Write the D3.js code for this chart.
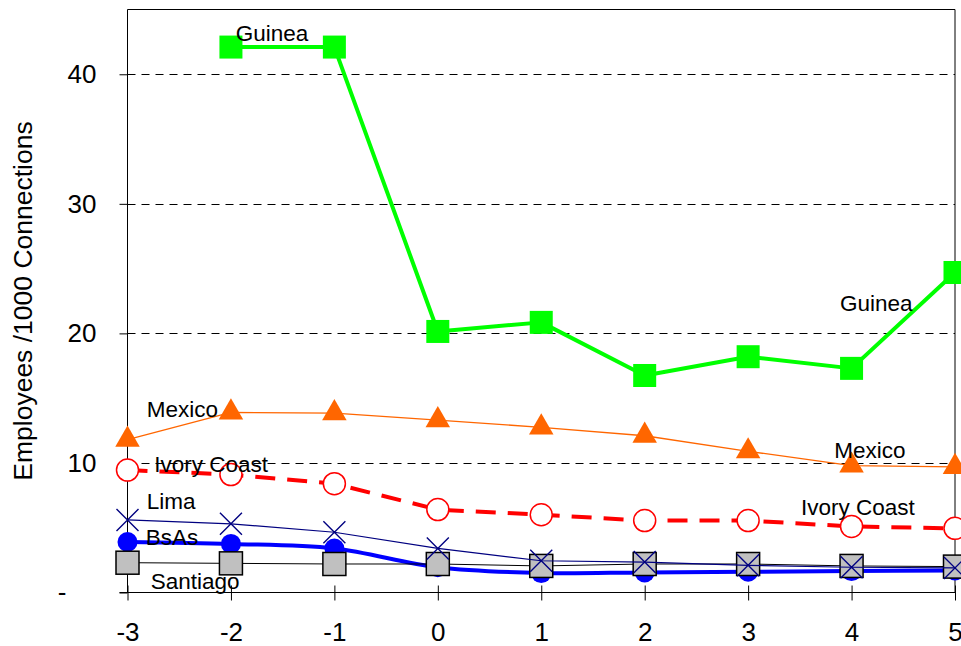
<!DOCTYPE html>
<html><head><meta charset="utf-8">
<script src="https://cdn.jsdelivr.net/npm/d3@7"></script>
<style>
html,body{margin:0;padding:0;background:#fff;}
svg{display:block;}
text{font-family:"Liberation Sans",Arial,Helvetica,sans-serif;fill:#000;}
</style>
</head><body>
<svg id="chart" width="961" height="646"></svg>
<script>
// ---- data ----
const years = [-3, -2, -1, 0, 1, 2, 3, 4, 5];
const guinea     = [null, 42.1, 42.1, 20.15, 20.85, 16.75, 18.2, 17.3, 24.7];
const mexico     = [11.8, 13.9, 13.85, 13.3, 12.75, 12.1, 10.9, 9.8, 9.7];
const ivoryCoast = [9.45, 9.1, 8.4, 6.4, 6.0, 5.55, 5.55, 5.1, 4.95];
const lima       = [5.6, 5.3, 4.65, 3.4, 2.45, 2.35, 2.1, 1.95, 1.9];
const bsas       = [3.9, 3.75, 3.4, 1.95, 1.5, 1.55, 1.6, 1.65, 1.7];
const santiago   = [2.3, 2.25, 2.2, 2.2, 2.05, 2.2, 2.2, 2.05, 2.0];
const yTicks = [0, 10, 20, 30, 40];
const yTickLabels = ["-", "10", "20", "30", "40"];
const xTickLabels = ["-3", "-2", "-1", "0", "1", "2", "3", "4", "5"];
const yTitle = "Employees /1000 Connections";
// series labels: text and anchor in data coordinates
const labelTexts = ["Guinea", "Guinea", "Mexico", "Mexico", "Ivory Coast", "Ivory Coast", "Lima", "BsAs", "Santiago"];
const labelX = [-1.954, 3.888, -2.814, 3.833, -2.741, 3.511, -2.814, -2.824, -2.776];
const labelY = [42.57, 21.7, 13.54, 10.4, 9.29, 6.02, 6.46, 3.68, 0.29];

// ---- layout ----
const svg = d3.select("#chart");
const x = d3.scaleLinear().domain([-3, 5]).range([127.5, 955]);
const y = d3.scaleLinear().domain([0, 45]).range([592.5, 9.5]);
const FONT_TICK = 26, FONT_LABEL = 22.5;

// gridlines
svg.append("g").selectAll("line").data(yTicks.filter(d => d > 0)).join("line")
  .attr("x1", x(-3)).attr("x2", x(5))
  .attr("y1", d => Math.round(y(d)) + 0.5).attr("y2", d => Math.round(y(d)) + 0.5)
  .attr("stroke", "#000").attr("stroke-width", 1).attr("stroke-dasharray", "8,6");

// y axis
const yAxis = svg.append("g").attr("transform", `translate(${x(-3)},0)`)
  .call(d3.axisLeft(y).tickValues(yTicks).tickFormat((d, i) => yTickLabels[i])
    .tickSize(8).tickPadding(23).tickSizeOuter(0));
yAxis.select(".domain").remove();
yAxis.selectAll(".tick line").attr("stroke", "#000");
yAxis.selectAll(".tick text").attr("font-size", FONT_TICK).attr("font-family", null);
yAxis.selectAll(".tick").filter(d => d === 0).select("text").attr("x", -61);

// x axis
const xAxis = svg.append("g").attr("transform", `translate(0,${y(0)})`)
  .call(d3.axisBottom(x).tickValues(years).tickFormat((d, i) => xTickLabels[i])
    .tickSize(8).tickPadding(22).tickSizeOuter(0));
xAxis.select(".domain").remove();
xAxis.selectAll(".tick line").attr("y1", -7).attr("stroke", "#000");
xAxis.selectAll(".tick text").attr("font-size", FONT_TICK).attr("font-family", null);

// frame
const frame = svg.append("g").attr("stroke", "#000").attr("stroke-width", 1);
frame.append("line").attr("x1", x(-3) - 8).attr("x2", x(5)).attr("y1", y(0)).attr("y2", y(0));
frame.append("line").attr("x1", x(-3)).attr("x2", x(-3)).attr("y1", y(45)).attr("y2", y(0));
frame.append("line").attr("x1", x(-3)).attr("x2", x(5)).attr("y1", y(45)).attr("y2", y(45));
frame.append("line").attr("x1", x(5)).attr("x2", x(5)).attr("y1", y(45)).attr("y2", y(0));

// y title
svg.append("text").attr("transform", `translate(32,301) rotate(-90)`)
  .attr("text-anchor", "middle").attr("font-size", 26.5).text(yTitle);

// helpers
const pts = vals => years.map((yr, i) => ({ x: yr, v: vals[i] })).filter(d => d.v != null);
function drawLine(vals, color, width, dash, curve) {
  const line = d3.line().x(d => x(d.x)).y(d => y(d.v)).curve(curve || d3.curveLinear);
  svg.append("path").datum(pts(vals)).attr("d", line)
    .attr("fill", "none").attr("stroke", color).attr("stroke-width", width)
    .attr("stroke-dasharray", dash || null).attr("stroke-linejoin", "round");
}
function squares(vals, fill, stroke, size) {
  svg.append("g").selectAll("rect").data(pts(vals)).join("rect")
    .attr("x", d => x(d.x) - size / 2).attr("y", d => y(d.v) - size / 2)
    .attr("width", size).attr("height", size)
    .attr("fill", fill).attr("stroke", stroke || "none").attr("stroke-width", stroke ? 1.5 : 0);
}
function circles(vals, fill, stroke, r) {
  svg.append("g").selectAll("circle").data(pts(vals)).join("circle")
    .attr("cx", d => x(d.x)).attr("cy", d => y(d.v)).attr("r", r)
    .attr("fill", fill).attr("stroke", stroke || "none").attr("stroke-width", stroke ? 1.5 : 0);
}
function triangles(vals, fill, size) {
  const sym = d3.symbol().type(d3.symbolTriangle).size(size);
  svg.append("g").selectAll("path").data(pts(vals)).join("path")
    .attr("transform", d => `translate(${x(d.x)},${y(d.v)})`).attr("d", sym).attr("fill", fill);
}
function crosses(vals, color, h) {
  const g = svg.append("g").attr("stroke", color).attr("stroke-width", 1.4);
  g.selectAll("path").data(pts(vals)).join("path")
    .attr("d", d => { const cx = x(d.x), cy = y(d.v);
      return `M${cx - h},${cy - h}L${cx + h},${cy + h}M${cx - h},${cy + h}L${cx + h},${cy - h}`; });
}

// series
drawLine(bsas, "#0000FF", 4, null, d3.curveCatmullRom);
circles(bsas, "#0000FF", null, 10);
drawLine(santiago, "#000000", 1);
squares(santiago, "#C0C0C0", "#000", 23);
drawLine(lima, "#000080", 1.2);
crosses(lima, "#000080", 11);
drawLine(ivoryCoast, "#FF0000", 4, "20,12");
circles(ivoryCoast, "#FFFFFF", "#FF0000", 11);
drawLine(mexico, "#FF6600", 1.3);
triangles(mexico, "#FF6600", 260);
drawLine(guinea, "#00FF00", 4);
squares(guinea, "#00FF00", null, 23);

// labels
svg.append("g").selectAll("text").data(labelTexts).join("text")
  .attr("x", (d, i) => x(labelX[i])).attr("y", (d, i) => y(labelY[i]))
  .attr("font-size", FONT_LABEL).text(d => d);
</script>
</body></html>
